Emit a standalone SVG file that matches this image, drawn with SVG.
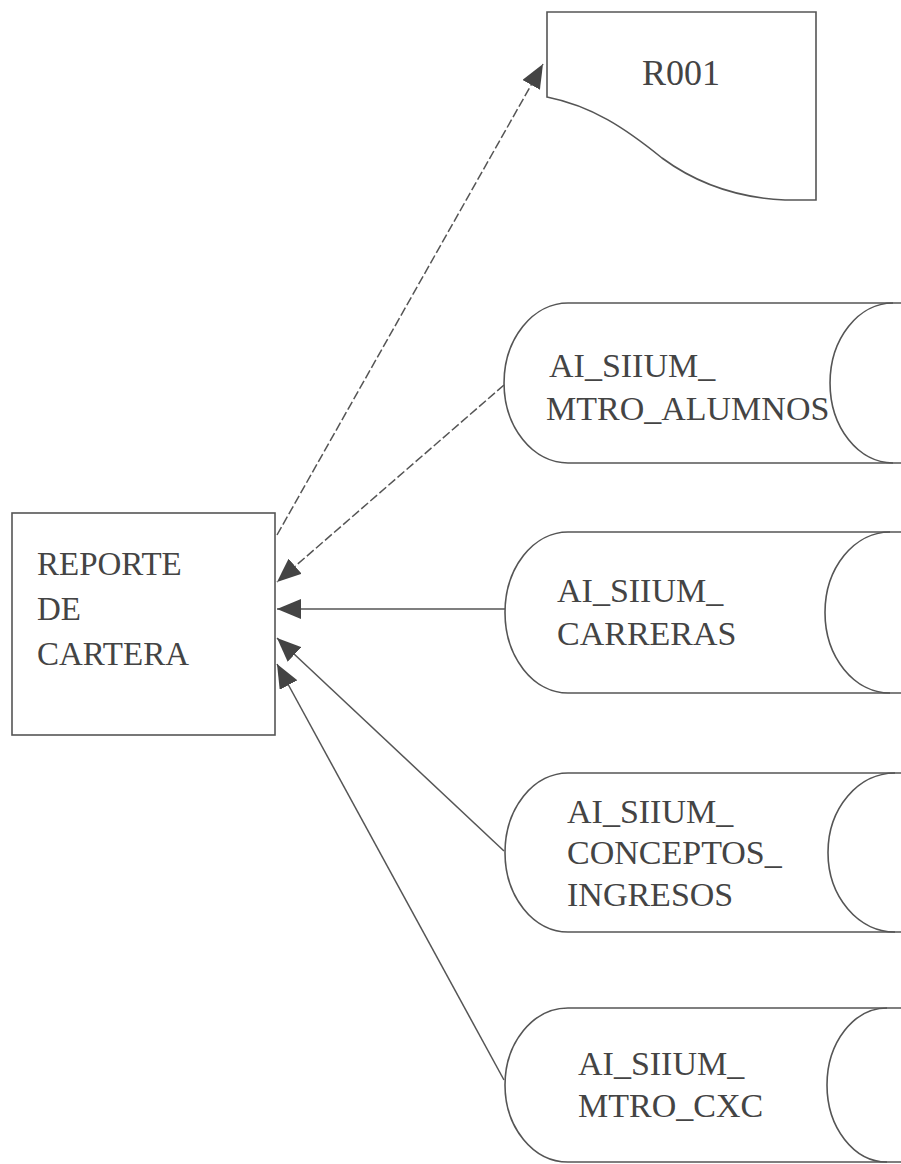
<svg xmlns="http://www.w3.org/2000/svg" width="901" height="1164" viewBox="0 0 901 1164">
<style>
.shape{fill:#fff;stroke:#555;stroke-width:1.6}
.open{fill:none;stroke:#555;stroke-width:1.6}
.lbl{font-family:'Liberation Serif','Times New Roman',serif;font-size:34px;fill:#444}
.box{font-size:33px}
.conn{fill:none;stroke:#555;stroke-width:1.5}
.dash{stroke-dasharray:9 3}
</style>
<defs>
<marker id="ah" markerUnits="userSpaceOnUse" viewBox="0 0 24 20" refX="24" refY="10" markerWidth="24" markerHeight="20" orient="auto">
<path d="M0,0 L24,10 L0,20 z" fill="#444"/>
</marker>
</defs>
<rect width="901" height="1164" fill="#fff"/>
<g id="connectors">
<line class="conn dash" x1="277" y1="535" x2="543" y2="64" marker-end="url(#ah)"/>
<line class="conn dash" x1="504" y1="385" x2="277" y2="582" marker-end="url(#ah)"/>
<line class="conn" x1="505" y1="609" x2="277" y2="609" marker-end="url(#ah)"/>
<line class="conn" x1="504" y1="851" x2="277" y2="638" marker-end="url(#ah)"/>
<line class="conn" x1="504" y1="1080" x2="277" y2="664" marker-end="url(#ah)"/>
</g>
<g id="r001">
<path class="shape" d="M547,12 L816,12 L816,200 L785,200 C740,198 700,186 662,158 C625,128 592,106 547,97 Z"/>
<text class="lbl" style="font-size:36px" x="681" y="85" text-anchor="middle">R001</text>
</g>
<g id="reporte">
<rect class="shape" x="12" y="513" width="263" height="222"/>
<text class="lbl box" x="37" y="575">REPORTE</text>
<text class="lbl box" x="37" y="620">DE</text>
<text class="lbl box" x="37" y="665">CARTERA</text>
</g>
<g id="alumnos">
<path class="shape" d="M905,303 H568 A64,80 0 0 0 568,463 H905"/>
<path class="open" d="M893,303 A63,80 0 0 0 893,463"/>
<text class="lbl" x="549" y="377">AI_SIIUM_</text>
<text class="lbl" x="546" y="420">MTRO_ALUMNOS</text>
</g>
<g id="carreras">
<path class="shape" d="M905,532 H568 A63,80.5 0 0 0 568,693 H905"/>
<path class="open" d="M890,532 A65,80.5 0 0 0 890,693"/>
<text class="lbl" x="557" y="602">AI_SIIUM_</text>
<text class="lbl" x="557" y="645">CARRERAS</text>
</g>
<g id="conceptos">
<path class="shape" d="M905,773 H568 A63,79.5 0 0 0 568,932 H905"/>
<path class="open" d="M895,773 A67,79.5 0 0 0 895,932"/>
<text class="lbl" x="567" y="823">AI_SIIUM_</text>
<text class="lbl" x="567" y="864">CONCEPTOS_</text>
<text class="lbl" x="567" y="906">INGRESOS</text>
</g>
<g id="cxc">
<path class="shape" d="M905,1008 H568 A63,77 0 0 0 568,1162 H905"/>
<path class="open" d="M887,1008 A60,77 0 0 0 887,1162"/>
<text class="lbl" x="578" y="1075">AI_SIIUM_</text>
<text class="lbl" x="578" y="1117">MTRO_CXC</text>
</g>
</svg>
